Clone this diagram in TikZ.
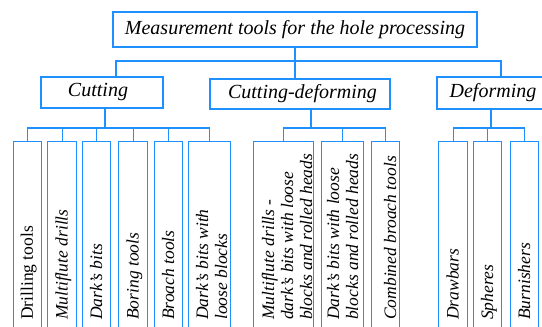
\documentclass[tikz,border=0pt]{standalone}
\usepackage{fontspec}
\setmainfont{Liberation Serif}
\definecolor{lineblue}{RGB}{30,144,255}
\begin{document}
\begin{tikzpicture}[x=1pt,y=-1pt,
  box/.style={draw=lineblue,line width=1.2pt,fill=white,rectangle,inner sep=0pt},
  wire/.style={draw=lineblue,line width=1.2pt},
  midtext/.style={font=\fontsize{20}{24}\selectfont\itshape},
  leaftext/.style={rotate=90,anchor=base west,align=left,inner sep=0pt,font=\fontsize{17.5}{19}\selectfont\itshape}]
\useasboundingbox (0,0) rectangle (542,327);
\clip (0,0) rectangle (542,327);
% top
\node[box,minimum width=364pt,minimum height=35pt] (top) at (295,29.5) {};
\node[midtext] (toptxt) at (295,29.5) {Measurement tools for the hole processing};
% middle
\node[box,minimum width=122pt,minimum height=31pt] (cut) at (102,92.5) {};
\node[midtext] (cuttxt) at (98,92.5) {Cutting};
\node[box,minimum width=180pt,minimum height=30pt] (cd) at (300,94) {};
\node[midtext] (cdtxt) at (302.5,94) {Cutting-deforming};
\node[box,minimum width=112pt,minimum height=32pt] (def) at (493,93) {};
\node[midtext] (deftxt) at (493,93) {Deforming};
% top connectors
\coordinate (tbusL) at (116,61);
\coordinate (tbusR) at (501,61);
\draw[wire] (top.south) -- (top.south |- cd.north);
\draw[wire] (cut.north -| tbusL) -- (tbusL) -- (tbusR) -- (def.north -| tbusR);
% leaf boxes
\foreach \n/\a/\b in {l1/13/41,l2/47/76,l3/82/110,l4/118/147,l5/154/182,l6/188/230,
                      l7/253/313,l8/321/363,l9/371/399,
                      l10/438/467,l11/473/501,l12/510/538}{
  \node[box,anchor=north west,minimum width={\b-\a},minimum height=200pt] (\n) at (\a,141) {};
}
% leaf texts (anchor = baseline of the last line)
\node[leaftext,font=\fontsize{17.5}{19}\selectfont\upshape] (t1) at (33,320) {Drilling tools};
\node[leaftext] (t2) at (67.5,320) {Multiflute drills};
\node[leaftext] (t3) at (102,320) {Dark's bits};
\node[leaftext] (t4) at (138.5,320) {Boring tools};
\node[leaftext] (t5) at (174,320) {Broach tools};
\node[leaftext] (t6) at (227,320) {Dark's bits with\\loose blocks};
\node[leaftext] (t7) at (312,320) {Multiflute drills -\\dark's bits with loose\\blocks and rolled heads};
\node[leaftext] (t8) at (358,320) {Dark's bits with loose\\blocks and rolled heads};
\node[leaftext] (t9) at (396,320) {Combined broach tools};
\node[leaftext] (t10) at (458.5,320) {Drawbars};
\node[leaftext] (t11) at (493,320) {Spheres};
\node[leaftext] (t12) at (530,320) {Burnishers};
% cutting bus
\coordinate (cbus) at (105,128);
\draw[wire] (cut.south -| cbus) -- (cbus);
\draw[wire] (l1.north) -- (l1.north |- cbus) -- (l6.north |- cbus) -- (l6.north);
\foreach \n in {l2,l3,l4,l5}{\draw[wire] (\n.north) -- (\n.north |- cbus);}
% cutting-deforming bus
\coordinate (dbus) at (311,128);
\draw[wire] (cd.south -| dbus) -- (dbus);
\draw[wire] (l7.north) -- (l7.north |- dbus) -- (l9.north |- dbus) -- (l9.north);
\draw[wire] (l8.north) -- (l8.north |- dbus);
% deforming bus
\coordinate (fbus) at (491,128);
\draw[wire] (def.south -| fbus) -- (fbus);
\draw[wire] (l10.north) -- (l10.north |- fbus) -- (l12.north |- fbus) -- (l12.north);
\draw[wire] (l11.north) -- (l11.north |- fbus);
\end{tikzpicture}
\end{document}
